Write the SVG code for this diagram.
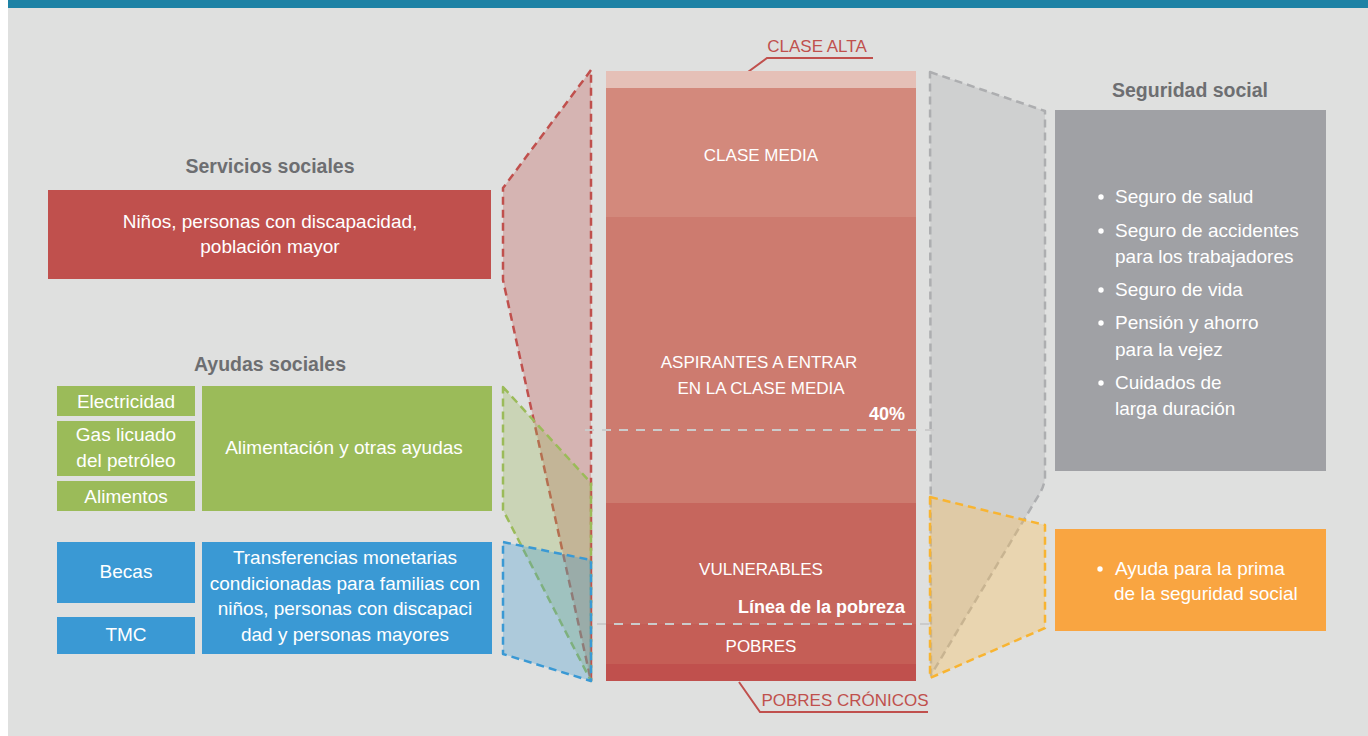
<svg xmlns="http://www.w3.org/2000/svg" width="1368" height="736" viewBox="0 0 1368 736">
<style>
text{font-family:"Liberation Sans",Arial,sans-serif;}
.w{fill:#ffffff;font-size:19px;}
.wc{fill:#ffffff;font-size:17px;}
.ttl{fill:#6d6e71;font-size:19.5px;font-weight:bold;}
.red{fill:#c0504d;font-size:17px;}
.wb{fill:#ffffff;font-weight:bold;font-size:18px;}
.dash{stroke-width:2.5;stroke-dasharray:8 5;stroke-linejoin:round;}
.hl{fill:none;stroke:#cbcbcb;stroke-width:2;stroke-dasharray:9 8;}
.ld{fill:none;stroke:#c0504d;stroke-width:2;}
</style>
<rect x="0" y="0" width="1368" height="736" fill="#ffffff"/>
<rect x="8" y="0" width="1360" height="736" fill="#dfe0df"/>
<rect x="8" y="0" width="1360" height="8" fill="#1d82a5"/>

<g id="connectors">
  <path class="dash" d="M591,70 L503,188 L503,280 L591,681 Z" fill="#c0504d" fill-opacity="0.3" stroke="#c0504d"/>
  <path class="dash" d="M503,387 L591,483 L591,681 L503,510 Z" fill="#9bbb59" fill-opacity="0.3" stroke="#9bbb59"/>
  <path class="dash" d="M503,542 L591,560 L591,681 L503,654 Z" fill="#3a99d4" fill-opacity="0.3" stroke="#3a99d4"/>
  <path class="dash" d="M930,72 L1045,111 L1045,478 Q1044,486 1040,493 L931,675 Z" fill="#a0a1a5" fill-opacity="0.25" stroke="#adaeb0"/>
  <path class="dash" d="M930,497 L1045,525 L1045,628 L930,678 Z" fill="#fbc05a" fill-opacity="0.35" stroke="#f8b431"/>
  <path class="ld" d="M737,80 L767,58 L873,58"/>
  <path class="ld" d="M739,682 L760,712 L928,712"/>
</g>

<g id="column">
  <rect x="606" y="71" width="310" height="17" fill="#e5c0b7"/>
  <rect x="606" y="88" width="310" height="129" fill="#d3897c"/>
  <rect x="606" y="217" width="310" height="286" fill="#cd7b6f"/>
  <rect x="606" y="503" width="310" height="121" fill="#c6665d"/>
  <rect x="606" y="624" width="310" height="40" fill="#c55e56"/>
  <rect x="606" y="664" width="310" height="17" fill="#c0504d"/>
  <line class="hl" x1="585" y1="430" x2="937" y2="430"/>
  <line class="hl" x1="597" y1="624" x2="937" y2="624"/>
  <text class="wc" x="761" y="161" text-anchor="middle">CLASE MEDIA</text>
  <text class="wc" x="759" y="368" text-anchor="middle">ASPIRANTES A ENTRAR</text>
  <text class="wc" x="761" y="394" text-anchor="middle">EN LA CLASE MEDIA</text>
  <text class="wb" x="905" y="420" text-anchor="end">40%</text>
  <text class="wc" x="761" y="575" text-anchor="middle">VULNERABLES</text>
  <text class="wb" x="905" y="613" text-anchor="end">Línea de la pobreza</text>
  <text class="wc" x="761" y="652" text-anchor="middle">POBRES</text>
</g>
<g id="clase-alta"><text class="red" x="817" y="52" text-anchor="middle">CLASE ALTA</text></g>
<g id="pobres-cronicos"><text class="red" x="845" y="706" text-anchor="middle">POBRES CRÓNICOS</text></g>

<g id="servicios-sociales">
  <text class="ttl" x="270" y="173" text-anchor="middle">Servicios sociales</text>
  <rect x="48" y="190" width="443" height="89" fill="#c0504d"/>
  <text class="w" x="270" y="228" text-anchor="middle">Niños, personas con discapacidad,</text>
  <text class="w" x="270" y="253" text-anchor="middle">población mayor</text>
</g>

<g id="ayudas-sociales">
  <text class="ttl" x="270" y="371" text-anchor="middle">Ayudas sociales</text>
</g>
<g id="electricidad">
  <rect x="57" y="386" width="138" height="30" fill="#9bbb59"/>
  <text class="w" x="126" y="408" text-anchor="middle">Electricidad</text>
</g>
<g id="gas">
  <rect x="57" y="421" width="138" height="55" fill="#9bbb59"/>
  <text class="w" x="126" y="441" text-anchor="middle">Gas licuado</text>
  <text class="w" x="126" y="467" text-anchor="middle">del petróleo</text>
</g>
<g id="alimentos">
  <rect x="57" y="481" width="138" height="30" fill="#9bbb59"/>
  <text class="w" x="126" y="503" text-anchor="middle">Alimentos</text>
</g>
<g id="alimentacion">
  <rect x="202" y="386" width="290" height="125" fill="#9bbb59"/>
  <text class="w" x="344" y="454" text-anchor="middle">Alimentación y otras ayudas</text>
</g>
<g id="becas">
  <rect x="57" y="542" width="138" height="61" fill="#3a99d4"/>
  <text class="w" x="126" y="578" text-anchor="middle">Becas</text>
</g>
<g id="tmc">
  <rect x="57" y="617" width="138" height="37" fill="#3a99d4"/>
  <text class="w" x="126" y="641" text-anchor="middle">TMC</text>
</g>
<g id="transferencias">
  <rect x="202" y="542" width="290" height="112" fill="#3a99d4"/>
  <text class="w" x="345" y="564" text-anchor="middle">Transferencias monetarias</text>
  <text class="w" x="345" y="590" text-anchor="middle">condicionadas para familias con</text>
  <text class="w" x="345" y="615" text-anchor="middle">niños, personas con discapaci</text>
  <text class="w" x="345" y="641" text-anchor="middle">dad y personas mayores</text>
</g>

<g id="seguridad-social">
  <text class="ttl" x="1190" y="97" text-anchor="middle">Seguridad social</text>
  <rect x="1055" y="110" width="271" height="361" fill="#a0a1a5"/>
  <g fill="#ffffff">
    <circle cx="1101" cy="197" r="2.7"/>
    <circle cx="1101" cy="231" r="2.7"/>
    <circle cx="1101" cy="290" r="2.7"/>
    <circle cx="1101" cy="323" r="2.7"/>
    <circle cx="1101" cy="383" r="2.7"/>
  </g>
  <text class="w" x="1115" y="203">Seguro de salud</text>
  <text class="w" x="1115" y="237">Seguro de accidentes</text>
  <text class="w" x="1115" y="263">para los trabajadores</text>
  <text class="w" x="1115" y="296">Seguro de vida</text>
  <text class="w" x="1115" y="329">Pensión y ahorro</text>
  <text class="w" x="1115" y="356">para la vejez</text>
  <text class="w" x="1115" y="389">Cuidados de</text>
  <text class="w" x="1115" y="415">larga duración</text>
</g>

<g id="ayuda-prima">
  <rect x="1055" y="529" width="271" height="102" fill="#f9a541"/>
  <circle cx="1100" cy="569" r="2.7" fill="#ffffff"/>
  <text class="w" x="1115" y="575">Ayuda para la prima</text>
  <text class="w" x="1114" y="600">de la seguridad social</text>
</g>
</svg>
